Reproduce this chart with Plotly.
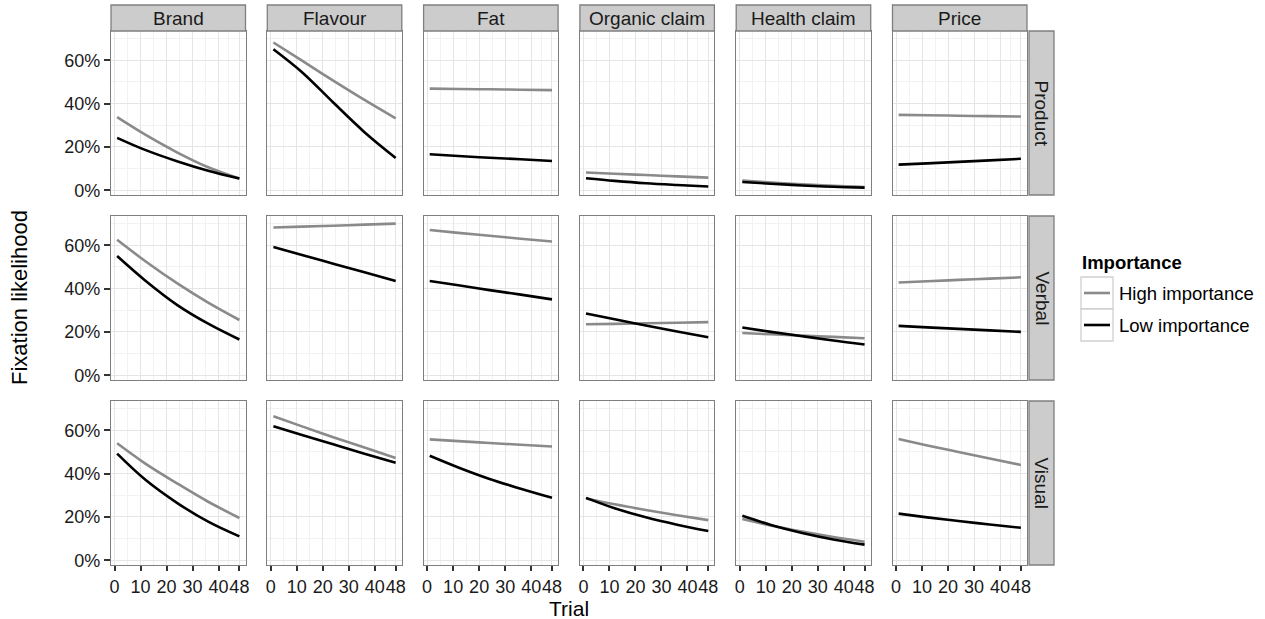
import plotly.graph_objects as go

# ---------------- data ----------------
trials = [1, 12, 24, 36, 48]
attributes = ["Brand", "Flavour", "Fat", "Organic claim", "Health claim", "Price"]
sources = ["Product", "Verbal", "Visual"]
importance_levels = ["High importance", "Low importance"]
x_tick_vals = [0, 10, 20, 30, 40, 48]
x_tick_text = ["0", "10", "20", "30", "40", "48"]
y_tick_vals = [0, 0.2, 0.4, 0.6]
y_tick_text = ["0%", "20%", "40%", "60%"]

# fixation likelihood (%) per attribute, read at the trials above
high_product = [[33.7, 25.5, 17.5, 10.6, 5.4], [68.2, 59.8, 50.6, 41.7, 33.2],
                [46.9, 46.7, 46.6, 46.4, 46.2], [8.2, 7.6, 7.0, 6.4, 5.8],
                [4.5, 3.6, 2.7, 2.0, 1.5], [34.8, 34.6, 34.4, 34.2, 34.0]]
low_product = [[24.2, 18.5, 13.4, 9.0, 5.4], [65.1, 54.5, 40.5, 26.8, 14.9],
               [16.6, 15.8, 15.0, 14.3, 13.5], [5.5, 4.3, 3.2, 2.4, 1.7],
               [3.8, 3.0, 2.2, 1.6, 1.2], [11.8, 12.4, 13.1, 13.8, 14.5]]
high_verbal = [[62.5, 52.5, 42.5, 33.5, 25.5], [68.2, 68.6, 69.0, 69.5, 70.0],
               [67.0, 65.7, 64.4, 63.0, 61.7], [23.5, 23.7, 24.0, 24.2, 24.5],
               [19.5, 18.9, 18.3, 17.7, 17.1], [42.8, 43.4, 44.0, 44.6, 45.2]]
low_verbal = [[55.0, 43.5, 32.5, 23.8, 16.5], [59.2, 55.5, 51.5, 47.5, 43.5],
              [43.5, 41.5, 39.3, 37.2, 35.0], [28.5, 25.8, 23.0, 20.2, 17.5],
              [22.0, 20.0, 18.0, 16.0, 14.2], [22.8, 22.1, 21.4, 20.7, 20.0]]
high_visual = [[54.0, 44.5, 35.5, 27.0, 19.5], [66.5, 61.8, 56.8, 52.0, 47.2],
               [55.8, 55.0, 54.1, 53.3, 52.5], [28.5, 25.8, 23.2, 20.8, 18.5],
               [19.0, 16.0, 13.2, 10.7, 8.5], [56.0, 53.0, 50.0, 47.0, 44.0]]
low_visual = [[49.2, 37.0, 26.5, 17.8, 11.0], [61.8, 57.8, 53.5, 49.2, 45.0],
              [48.2, 42.8, 37.5, 33.0, 28.8], [28.8, 24.0, 19.8, 16.4, 13.5],
              [20.5, 16.3, 12.6, 9.6, 7.2], [21.5, 19.8, 18.1, 16.5, 15.0]]

high_by_source = [high_product, high_verbal, high_visual]
low_by_source = [low_product, low_verbal, low_visual]

# ---------------- layout geometry (pixels) ----------------
W, H = 1265, 619
FONT = "Liberation Sans, Arial, Helvetica, sans-serif"
HIGH_COL = "#8A8A8A"
LOW_COL = "#000000"
BORDER = "#7F7F7F"
STRIP_FILL = "#CCCCCC"
TICK_SIZE = 18
STRIP_SIZE = 19
LEGEND_SIZE = 18.5
TITLE_SIZE = 22

col_x0 = [111 + 156.3 * c for c in range(6)]
panel_w = 134.5
row_y0 = [31, 216, 401]
panel_h = 164


def px(x):
    return x / W


def py(y):
    return 1 - y / H


fig = go.Figure()
layout = dict(
    width=W, height=H,
    margin=dict(l=0, r=0, t=0, b=0, autoexpand=False),
    paper_bgcolor="white", plot_bgcolor="white",
    showlegend=False,
    font=dict(family=FONT, size=17, color="#1A1A1A"),
)
shapes = []
annotations = []

for r in range(3):
    for c in range(6):
        k = r * 6 + c + 1
        xa = "xaxis" if k == 1 else f"xaxis{k}"
        ya = "yaxis" if k == 1 else f"yaxis{k}"
        xref = "x" if k == 1 else f"x{k}"
        yref = "y" if k == 1 else f"y{k}"
        x0 = col_x0[c]
        x1 = x0 + panel_w
        y0 = row_y0[r]
        y1 = y0 + panel_h
        bottom = r == 2
        left = c == 0
        layout[xa] = dict(
            domain=[px(x0), px(x1)], anchor=yref, range=[-1.35, 50.35],
            tickmode="array", tickvals=x_tick_vals, ticktext=x_tick_text,
            showticklabels=bottom, ticks="outside" if bottom else "",
            tickangle=0, automargin=False,
            ticklen=5, tickwidth=1.5, tickcolor="#333333",
            tickfont=dict(size=TICK_SIZE, color="#1A1A1A", family=FONT),
            showgrid=True, gridcolor="#E5E5E5", gridwidth=1,
            minor=dict(tickvals=[5, 15, 25, 35, 44], showgrid=True,
                       gridcolor="#F2F2F2", gridwidth=1, ticks=""),
            showline=True, mirror=True, linecolor=BORDER, linewidth=1.3,
            zeroline=False, fixedrange=True,
        )
        layout[ya] = dict(
            domain=[py(y1), py(y0)], anchor=xref, range=[-0.022, 0.735],
            tickmode="array", tickvals=y_tick_vals, ticktext=y_tick_text,
            showticklabels=left, ticks="outside" if left else "",
            tickangle=0, automargin=False,
            ticklen=6, tickwidth=1.5, tickcolor="#333333",
            tickfont=dict(size=TICK_SIZE, color="#1A1A1A", family=FONT),
            showgrid=True, gridcolor="#E5E5E5", gridwidth=1,
            minor=dict(tickvals=[0.1, 0.3, 0.5, 0.7], showgrid=True,
                       gridcolor="#F2F2F2", gridwidth=1, ticks=""),
            showline=True, mirror=True, linecolor=BORDER, linewidth=1.3,
            zeroline=False, fixedrange=True,
        )
        for vals, col, name in ((high_by_source[r][c], HIGH_COL, importance_levels[0]),
                                (low_by_source[r][c], LOW_COL, importance_levels[1])):
            fig.add_trace(go.Scatter(
                x=trials, y=[v / 100 for v in vals], mode="lines",
                line=dict(color=col, width=2.6, shape="spline", smoothing=1.0),
                name=name, xaxis=xref, yaxis=yref, hoverinfo="skip",
            ))

# top strips
for c, name in enumerate(attributes):
    x0 = col_x0[c]
    x1 = x0 + panel_w
    shapes.append(dict(type="rect", xref="paper", yref="paper",
                       x0=px(x0), x1=px(x1), y0=py(31), y1=py(5),
                       fillcolor=STRIP_FILL, line=dict(color=BORDER, width=1.3),
                       layer="above"))
    annotations.append(dict(text=name, xref="paper", yref="paper",
                            x=px((x0 + x1) / 2), y=py(18), showarrow=False,
                            xanchor="center", yanchor="middle",
                            font=dict(size=STRIP_SIZE, color="#1A1A1A", family=FONT)))

# right strips
for r, name in enumerate(sources):
    y0 = row_y0[r]
    y1 = y0 + panel_h
    shapes.append(dict(type="rect", xref="paper", yref="paper",
                       x0=px(1029), x1=px(1054), y0=py(y1), y1=py(y0),
                       fillcolor=STRIP_FILL, line=dict(color=BORDER, width=1.3),
                       layer="above"))
    annotations.append(dict(text=name, xref="paper", yref="paper",
                            x=px(1041.5), y=py((y0 + y1) / 2), showarrow=False,
                            textangle=90, xanchor="center", yanchor="middle",
                            font=dict(size=STRIP_SIZE, color="#1A1A1A", family=FONT)))

# axis titles
annotations.append(dict(text="Trial", xref="paper", yref="paper",
                        x=px((col_x0[0] + col_x0[5] + panel_w) / 2), y=py(608),
                        showarrow=False, xanchor="center", yanchor="middle",
                        font=dict(size=21, color="#000000", family=FONT)))
annotations.append(dict(text="Fixation likelihood", xref="paper", yref="paper",
                        x=px(20), y=py(298), showarrow=False, textangle=-90,
                        xanchor="center", yanchor="middle",
                        font=dict(size=TITLE_SIZE, color="#000000", family=FONT)))

# legend (drawn manually)
annotations.append(dict(text="<b>Importance</b>", xref="paper", yref="paper",
                        x=px(1080), y=py(263), showarrow=False,
                        xanchor="left", yanchor="middle",
                        font=dict(size=LEGEND_SIZE, color="#000000", family=FONT)))
for i, (name, col) in enumerate(zip(importance_levels, [HIGH_COL, LOW_COL])):
    by0 = 277 + 32 * i
    by1 = by0 + 32
    shapes.append(dict(type="rect", xref="paper", yref="paper",
                       x0=px(1081), x1=px(1113), y0=py(by1), y1=py(by0),
                       fillcolor="white", line=dict(color="#D0D0D0", width=1.3)))
    ym = (by0 + by1) / 2
    shapes.append(dict(type="line", xref="paper", yref="paper",
                       x0=px(1084), x1=px(1110), y0=py(ym), y1=py(ym),
                       line=dict(color=col, width=2.6)))
    annotations.append(dict(text=name, xref="paper", yref="paper",
                            x=px(1117), y=py(ym), showarrow=False,
                            xanchor="left", yanchor="middle",
                            font=dict(size=LEGEND_SIZE, color="#000000", family=FONT)))

layout["shapes"] = shapes
layout["annotations"] = annotations
fig.update_layout(**layout)
fig.write_html(
    "out.html",
    config={"displayModeBar": False},
    post_script="document.body.style.margin='0';document.body.style.overflow='hidden';",
)
